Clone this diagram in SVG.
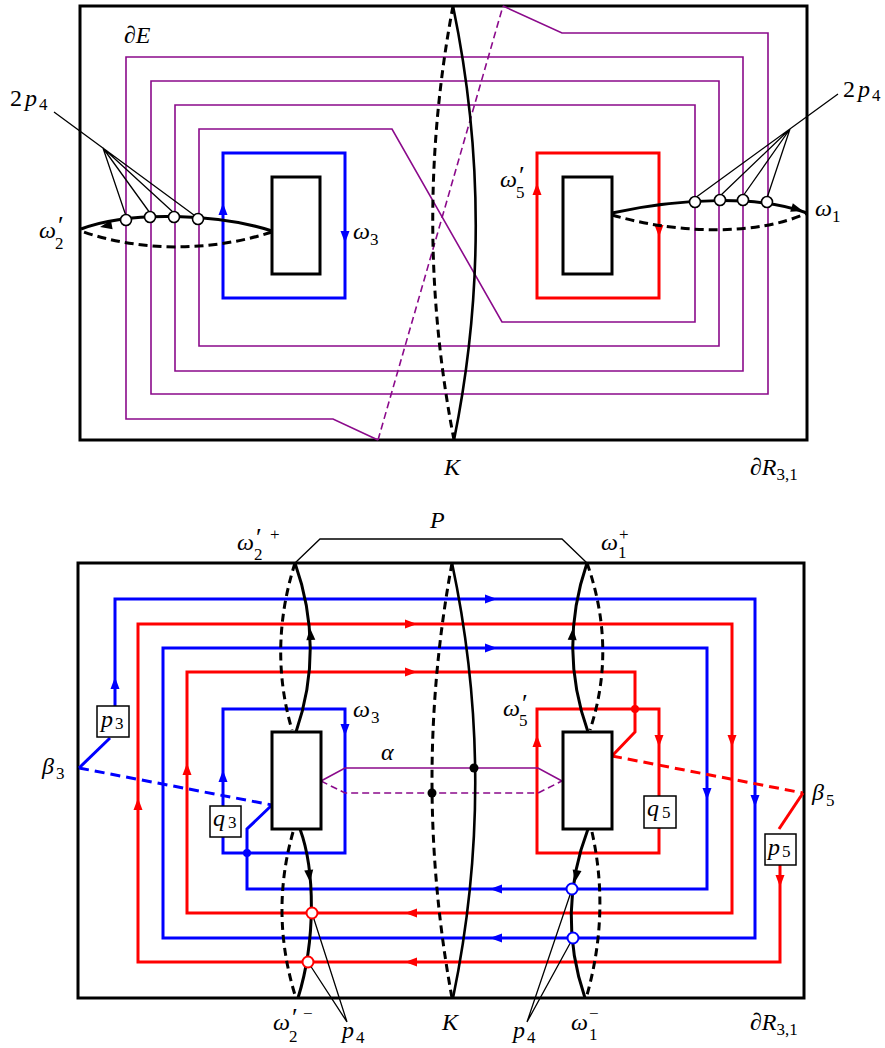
<svg xmlns="http://www.w3.org/2000/svg" xmlns:xlink="http://www.w3.org/1999/xlink" width="885" height="1048" viewBox="0 0 885 1048">
<style>
.frame{fill:none;stroke:#000;stroke-width:3}
.pur{fill:none;stroke:#8b0a8b;stroke-width:1.6}
.purd{fill:none;stroke:#8b0a8b;stroke-width:1.6;stroke-dasharray:7 4}
.blu{fill:none;stroke:#0000ff;stroke-width:3}
.red{fill:none;stroke:#ff0000;stroke-width:3}
.blud{fill:none;stroke:#0000ff;stroke-width:3;stroke-dasharray:10 6}
.redd{fill:none;stroke:#ff0000;stroke-width:3;stroke-dasharray:10 6}
.ks{fill:none;stroke:#000;stroke-width:2.6}
.kd{fill:none;stroke:#000;stroke-width:3;stroke-dasharray:8 5}
.ws{fill:none;stroke:#000;stroke-width:3}
.wd{fill:none;stroke:#000;stroke-width:3;stroke-dasharray:9 5}
.box{fill:#fff;stroke:#000;stroke-width:3}
.lb{fill:#fff;stroke:#000;stroke-width:1.5}
.lead{fill:none;stroke:#000;stroke-width:1.3}
.oc{fill:#fff;stroke:#000;stroke-width:1.6}
.ocr{fill:#fff;stroke:#ff0000;stroke-width:2}
.ocb{fill:#fff;stroke:#0000ff;stroke-width:2}
text{font-family:'Liberation Serif','DejaVu Serif',serif;font-size:24px;fill:#000}
.i{font-style:italic}
.s{font-size:17px;font-style:normal}
.pr{font-size:26px;font-style:normal}
</style>
<defs>
<path id="ah" d="M0,0 L-12,-4.5 L-12,4.5 Z"/>
</defs>

<!-- ===== TOP DIAGRAM ===== -->
<g id="top-frame"><rect class="frame" x="80" y="6" width="727" height="434"/></g>
<g id="top-purple">
<path class="pur" d="M503,6 L562,33 L768,33 L768,394 L151,394 L151,81 L719,81 L719,346 L199,346 L199,129 L392,129 L502,322 L695,322 L695,105 L175,105 L175,371 L743,371 L743,57 L126,57 L126,419 L333,419 L378,440"/>
<path class="purd" d="M378,440 L503,6"/>
</g>
<g id="top-omega3">
<rect class="blu" x="223" y="153" width="122" height="145"/>
<use xlink:href="#ah" href="#ah" fill="#0000ff" transform="translate(223,203) rotate(-90)"/>
<use xlink:href="#ah" href="#ah" fill="#0000ff" transform="translate(345,243) rotate(90)"/>
</g>
<g id="top-omega5">
<rect class="red" x="537" y="153" width="122" height="145"/>
<use xlink:href="#ah" href="#ah" fill="#ff0000" transform="translate(537,183) rotate(-90)"/>
<use xlink:href="#ah" href="#ah" fill="#ff0000" transform="translate(659,237) rotate(90)"/>
</g>
<g id="top-K">
<path class="ks" d="M453,6 Q498,223 454,440"/>
<path class="kd" d="M453,6 Q412,223 454,440"/>
</g>
<g id="top-omega2p">
<path class="ws" d="M272,231 C220,214 130,210 81,229"/>
<path class="wd" d="M272,232 C210,252 140,252 81,231"/>
<use xlink:href="#ah" href="#ah" fill="#000" transform="translate(100,227) rotate(169)"/>
</g>
<g id="top-omega1">
<path class="ws" d="M612,213 C680,198 760,195 807,213"/>
<path class="wd" d="M612,215 C680,235 760,235 807,213"/>
<use xlink:href="#ah" href="#ah" fill="#000" transform="translate(803,211) rotate(17)"/>
</g>
<g id="top-rect-left"><rect class="box" x="272" y="177" width="48" height="97"/></g>
<g id="top-rect-right"><rect class="box" x="563" y="177" width="49" height="97"/></g>
<g id="top-leaders">
<path class="lead" d="M54,112 L198,218 M103,148 L126,216 M103,148 L150,213 M103,148 L174,213"/>
<path class="lead" d="M838,94 L695,198 M790,129 L720,196 M790,129 L743,196 M790,129 L767,198"/>
</g>
<g id="top-p4-points">
<circle class="oc" cx="126" cy="220" r="5.5"/>
<circle class="oc" cx="150" cy="217" r="5.5"/>
<circle class="oc" cx="174" cy="217" r="5.5"/>
<circle class="oc" cx="198" cy="219" r="5.5"/>
<circle class="oc" cx="695" cy="202" r="5.5"/>
<circle class="oc" cx="720" cy="200" r="5.5"/>
<circle class="oc" cx="743" cy="200" r="5.5"/>
<circle class="oc" cx="767" cy="202" r="5.5"/>
</g>
<g id="top-labels">
<text x="124" y="43">∂<tspan class="i">E</tspan></text>
<text x="10" y="106">2<tspan class="i" x="25">p</tspan><tspan class="s" x="39" y="110">4</tspan></text>
<text x="843" y="97">2<tspan class="i" x="858">p</tspan><tspan class="s" x="872" y="101">4</tspan></text>
<text class="i" x="39" y="238">ω<tspan class="pr" x="58" y="234">′</tspan><tspan class="s" x="55" y="249">2</tspan></text>
<text class="i" x="353" y="239">ω<tspan class="s" x="370" y="245">3</tspan></text>
<text class="i" x="500" y="187">ω<tspan class="pr" x="519" y="184">′</tspan><tspan class="s" x="516" y="198">5</tspan></text>
<text class="i" x="815" y="216">ω<tspan class="s" x="832" y="222">1</tspan></text>
<text class="i" x="444" y="475">K</text>
<text x="750" y="475">∂<tspan class="i">R</tspan><tspan class="s" dy="5">3,1</tspan></text>
</g>

<!-- ===== BOTTOM DIAGRAM ===== -->
<g id="bot-frame"><rect class="frame" x="78" y="563" width="726" height="435"/></g>
<g id="bot-P">
<path class="lead" d="M295,563 L320,539 L562,539 L587,563"/>
</g>
<g id="bot-blue-lines">
<path class="blu" d="M115,706 L115,599 L755,599 L755,938 L163,938 L163,648 L707,648 L707,889 L247,889 L247,829 L272,805"/>
<path class="blu" d="M110,738 L79,768"/>
<path class="blud" d="M79,768 L272,805"/>
<use xlink:href="#ah" href="#ah" fill="#0000ff" transform="translate(115,677) rotate(-90)"/>
<use xlink:href="#ah" href="#ah" fill="#0000ff" transform="translate(497,599)"/>
<use xlink:href="#ah" href="#ah" fill="#0000ff" transform="translate(497,648)"/>
<use xlink:href="#ah" href="#ah" fill="#0000ff" transform="translate(707,800) rotate(90)"/>
<use xlink:href="#ah" href="#ah" fill="#0000ff" transform="translate(755,807) rotate(90)"/>
<use xlink:href="#ah" href="#ah" fill="#0000ff" transform="translate(490,889) rotate(180)"/>
<use xlink:href="#ah" href="#ah" fill="#0000ff" transform="translate(490,938) rotate(180)"/>
</g>
<g id="bot-red-lines">
<path class="red" d="M780,865 L780,962 L138,962 L138,624 L732,624 L732,913 L187,913 L187,672 L635,672 L635,732 L612,756"/>
<path class="red" d="M803,793 L779,829"/>
<path class="redd" d="M612,756 L803,793"/>
<use xlink:href="#ah" href="#ah" fill="#ff0000" transform="translate(417,624)"/>
<use xlink:href="#ah" href="#ah" fill="#ff0000" transform="translate(417,672)"/>
<use xlink:href="#ah" href="#ah" fill="#ff0000" transform="translate(732,747) rotate(90)"/>
<use xlink:href="#ah" href="#ah" fill="#ff0000" transform="translate(780,887) rotate(90)"/>
<use xlink:href="#ah" href="#ah" fill="#ff0000" transform="translate(405,913) rotate(180)"/>
<use xlink:href="#ah" href="#ah" fill="#ff0000" transform="translate(405,962) rotate(180)"/>
<use xlink:href="#ah" href="#ah" fill="#ff0000" transform="translate(138,798) rotate(-90)"/>
<use xlink:href="#ah" href="#ah" fill="#ff0000" transform="translate(187,763) rotate(-90)"/>
</g>
<g id="bot-omega3">
<rect class="blu" x="223" y="709" width="122" height="144"/>
<use xlink:href="#ah" href="#ah" fill="#0000ff" transform="translate(345,736) rotate(90)"/>
<use xlink:href="#ah" href="#ah" fill="#0000ff" transform="translate(223,770) rotate(-90)"/>
<circle cx="247" cy="853" r="4" fill="#0000ff"/>
</g>
<g id="bot-omega5">
<rect class="red" x="537" y="709" width="122" height="144"/>
<use xlink:href="#ah" href="#ah" fill="#ff0000" transform="translate(537,735) rotate(-90)"/>
<use xlink:href="#ah" href="#ah" fill="#ff0000" transform="translate(659,747) rotate(90)"/>
<circle cx="635" cy="709" r="4" fill="#ff0000"/>
</g>
<g id="bot-alpha">
<path class="pur" d="M321,781 L345,768 L538,768 L562,781"/>
<path class="purd" d="M321,781 L345,793 L538,793 L562,781"/>
</g>
<g id="bot-K">
<path class="ks" d="M452,563 Q498,780 453,998"/>
<path class="kd" d="M452,563 Q412,780 452,998"/>
<circle cx="474" cy="768" r="4.5" fill="#000"/>
<circle cx="432" cy="793" r="4.5" fill="#000"/>
</g>
<g id="bot-omega2p-plus">
<path class="ws" d="M295,563 Q325,648 296,732"/>
<path class="kd" d="M295,563 Q268,648 292,730"/>
<use xlink:href="#ah" href="#ah" fill="#000" transform="translate(310,628) rotate(-94)"/>
</g>
<g id="bot-omega2p-minus">
<path class="ws" d="M300,829 C315,870 316,940 298,998"/>
<path class="kd" d="M293,832 Q270,913 295,995"/>
<use xlink:href="#ah" href="#ah" fill="#000" transform="translate(310,882) rotate(84)"/>
</g>
<g id="bot-omega1-plus">
<path class="ws" d="M587,563 Q558,648 588,732"/>
<path class="kd" d="M587,563 Q617,648 590,730"/>
<use xlink:href="#ah" href="#ah" fill="#000" transform="translate(573,628) rotate(-86)"/>
</g>
<g id="bot-omega1-minus">
<path class="ws" d="M588,829 Q556,913 585,998"/>
<path class="kd" d="M592,832 Q610,913 587,995"/>
<use xlink:href="#ah" href="#ah" fill="#000" transform="translate(575,882) rotate(100)"/>
</g>
<g id="bot-rect-left"><rect class="box" x="272" y="732" width="49" height="97"/></g>
<g id="bot-rect-right"><rect class="box" x="563" y="732" width="49" height="97"/></g>
<g id="bot-p3"><rect class="lb" x="97" y="706" width="32" height="31"/><text class="i" x="101" y="727">p<tspan class="s" x="115" y="729">3</tspan></text></g>
<g id="bot-q3"><rect class="lb" x="210" y="806" width="31" height="31"/><text class="i" x="213" y="826">q<tspan class="s" x="228" y="828">3</tspan></text></g>
<g id="bot-q5"><rect class="lb" x="644" y="796" width="32" height="32"/><text class="i" x="647" y="816">q<tspan class="s" x="662" y="818">5</tspan></text></g>
<g id="bot-p5"><rect class="lb" x="765" y="834" width="31" height="31"/><text class="i" x="768" y="855">p<tspan class="s" x="782" y="857">5</tspan></text></g>
<g id="bot-leaders">
<path class="lead" d="M312,913 L347,1022 M308,962 L347,1022"/>
<path class="lead" d="M572,889 L527,1022 M573,938 L527,1022"/>
</g>
<g id="bot-p4-points">
<circle class="ocr" cx="312" cy="913" r="5.5"/>
<circle class="ocr" cx="308" cy="962" r="5.5"/>
<circle class="ocb" cx="572" cy="889" r="5.5"/>
<circle class="ocb" cx="573" cy="938" r="5.5"/>
</g>
<g id="bot-labels">
<text class="i" x="237" y="550">ω<tspan class="pr" x="256" y="546">′</tspan><tspan class="s" x="270" y="540">+</tspan><tspan class="s" x="254" y="560">2</tspan></text>
<text class="i" x="430" y="528">P</text>
<text class="i" x="601" y="550">ω<tspan class="s" x="619" y="540">+</tspan><tspan class="s" x="618" y="558">1</tspan></text>
<text class="i" x="353" y="717">ω<tspan class="s" x="371" y="723">3</tspan></text>
<text class="i" x="503" y="716">ω<tspan class="pr" x="522" y="712">′</tspan><tspan class="s" x="519" y="726">5</tspan></text>
<text class="i" x="381" y="760">α</text>
<text class="i" x="42" y="774">β<tspan class="s" x="56" y="779">3</tspan></text>
<text class="i" x="812" y="800">β<tspan class="s" x="826" y="806">5</tspan></text>
<text class="i" x="273" y="1030">ω<tspan class="pr" x="292" y="1026">′</tspan><tspan class="s" x="303" y="1019">−</tspan><tspan class="s" x="289" y="1042">2</tspan></text>
<text class="i" x="342" y="1038">p<tspan class="s" x="356" y="1043">4</tspan></text>
<text class="i" x="442" y="1030">K</text>
<text class="i" x="513" y="1038">p<tspan class="s" x="527" y="1043">4</tspan></text>
<text class="i" x="571" y="1030">ω<tspan class="s" x="589" y="1019">−</tspan><tspan class="s" x="589" y="1040">1</tspan></text>
<text x="750" y="1030">∂<tspan class="i">R</tspan><tspan class="s" dy="5">3,1</tspan></text>
</g>
</svg>
